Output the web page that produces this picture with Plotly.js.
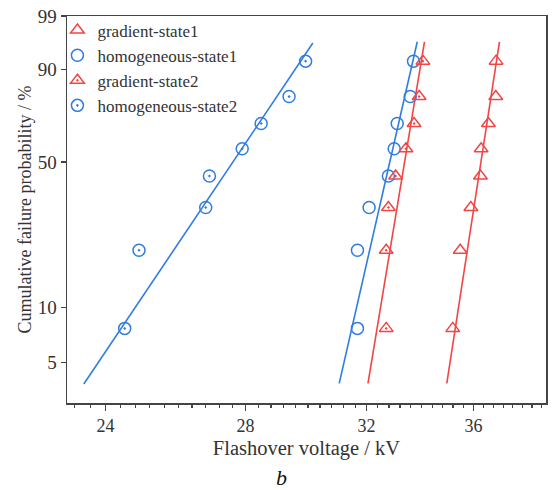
<!DOCTYPE html>
<html>
<head>
<meta charset="utf-8">
<script src="https://cdn.plot.ly/plotly-3.0.1.min.js"></script>
<style>
  html, body { margin: 0; padding: 0; background: #fff; }
  #chart { width: 553px; height: 490px; }
</style>
</head>
<body>
<div id="chart"></div>
<script>
// Cumulative failure probability levels (%) shared by all series
const probability = [7.7, 19.8, 31.9, 43.9, 56.1, 68.1, 80.2, 92.3];

// Flashover voltages (kV)
const gradientState1 = [35.19, 35.48, 35.90, 36.28, 36.31, 36.60, 36.90, 36.91];
const homogeneousState1 = [31.68, 31.68, 32.09, 32.78, 32.99, 33.10, 33.58, 33.70];
const gradientState2 = [32.70, 32.70, 32.78, 33.04, 33.42, 33.72, 33.91, 34.05];
const homogeneousState2 = [24.51, 24.90, 26.80, 26.91, 27.90, 28.49, 29.38, 29.92];

// Fitted Weibull lines: [voltage start, voltage end], [probability start, probability end]
const fitGradient1V = [34.96, 37.05];
const fitHomogeneous1V = [31.05, 33.84];
const fitGradient2V = [32.05, 34.11];
const fitHomogeneous2V = [23.43, 30.16];
const fitLowP = [3.85, 96.3];
const fitHomogeneous2P = [3.82, 96.1];

// Axis ticks
const xTicks = [24, 28, 32, 36];
const yTickValues = [5, 10, 50, 90, 99];
const yTickLabels = ['5', '10', '50', '90', '99'];
const xMinorTicks = [];
for (let v = 23.2; v < 39; v += 0.4) {
  const r = Math.round(v * 10) / 10;
  if (!xTicks.includes(r)) xMinorTicks.push(r);
}

// Weibull probability scale
const W = p => Math.log(-Math.log(1 - p / 100));

const BLUE = '#2f7de1';
const RED = '#f24545';
const FONT = 'Liberation Serif, Times New Roman, serif';

function pts(name, x, color, symbol) {
  return {
    type: 'scatter', mode: 'markers', name: name,
    x: x, y: probability.map(W),
    marker: { symbol: symbol, size: 12, color: color, line: { color: color, width: 1.5 } },
    hoverinfo: 'skip'
  };
}
function fit(x, p, color) {
  return {
    type: 'scatter', mode: 'lines', showlegend: false,
    x: x, y: p.map(W),
    line: { color: color, width: 1.6 },
    hoverinfo: 'skip'
  };
}

const data = [
  fit(fitGradient1V, fitLowP, RED),
  fit(fitHomogeneous1V, fitLowP, BLUE),
  fit(fitGradient2V, fitLowP, RED),
  fit(fitHomogeneous2V, fitHomogeneous2P, BLUE),
  pts('gradient-state1', gradientState1, RED, 'triangle-up-open'),
  pts('homogeneous-state1', homogeneousState1, BLUE, 'circle-open'),
  pts('gradient-state2', gradientState2, RED, 'triangle-up-open-dot'),
  pts('homogeneous-state2', homogeneousState2, BLUE, 'circle-open-dot')
];

const layout = {
  width: 553, height: 490,
  margin: { l: 67, r: 7, t: 16, b: 87 },
  paper_bgcolor: '#fff', plot_bgcolor: '#fff',
  font: { family: FONT, color: '#333', size: 18 },
  showlegend: true,
  legend: {
    x: -0.02, y: 1.009, xanchor: 'left', yanchor: 'top',
    bgcolor: 'rgba(0,0,0,0)', borderwidth: 0,
    font: { family: FONT, size: 17, color: '#333' },
    tracegroupgap: 0
  },
  xaxis: {
    type: 'log',
    range: [Math.log10(23), Math.log10(39)],
    tickmode: 'array', tickvals: xTicks, ticktext: xTicks.map(String),
    ticks: 'outside', ticklen: 6, tickwidth: 1.3, tickcolor: '#444',
    minor: { tickmode: 'array', tickvals: xMinorTicks, ticks: 'outside', ticklen: 3, tickwidth: 1.2, tickcolor: '#444', showgrid: false },
    showline: true, linecolor: '#444', linewidth: 1.5, mirror: true,
    showgrid: false, zeroline: false,
    tickfont: { family: FONT, size: 18, color: '#333' },
    title: { text: 'Flashover voltage / kV', font: { family: FONT, size: 20.5, color: '#333' }, standoff: 5 }
  },
  yaxis: {
    range: [-3.492, W(99)],
    tickmode: 'array', tickvals: yTickValues.map(W), ticktext: yTickLabels,
    ticks: 'outside', ticklen: 5, tickwidth: 1.3, tickcolor: '#444',
    showline: true, linecolor: '#444', linewidth: 1.5, mirror: true,
    showgrid: false, zeroline: false,
    tickfont: { family: FONT, size: 19, color: '#333' },
    title: { text: 'Cumulative failure probability / %', font: { family: FONT, size: 18, color: '#333' }, standoff: 1 }
  },
  annotations: [{
    xref: 'paper', yref: 'paper', x: 0.447, y: -0.193,
    xanchor: 'center', yanchor: 'middle', showarrow: false,
    text: '<i>b</i>', font: { family: FONT, size: 22, color: '#111' }
  }]
};

Plotly.newPlot('chart', data, layout, { staticPlot: true, displayModeBar: false });
</script>
</body>
</html>
